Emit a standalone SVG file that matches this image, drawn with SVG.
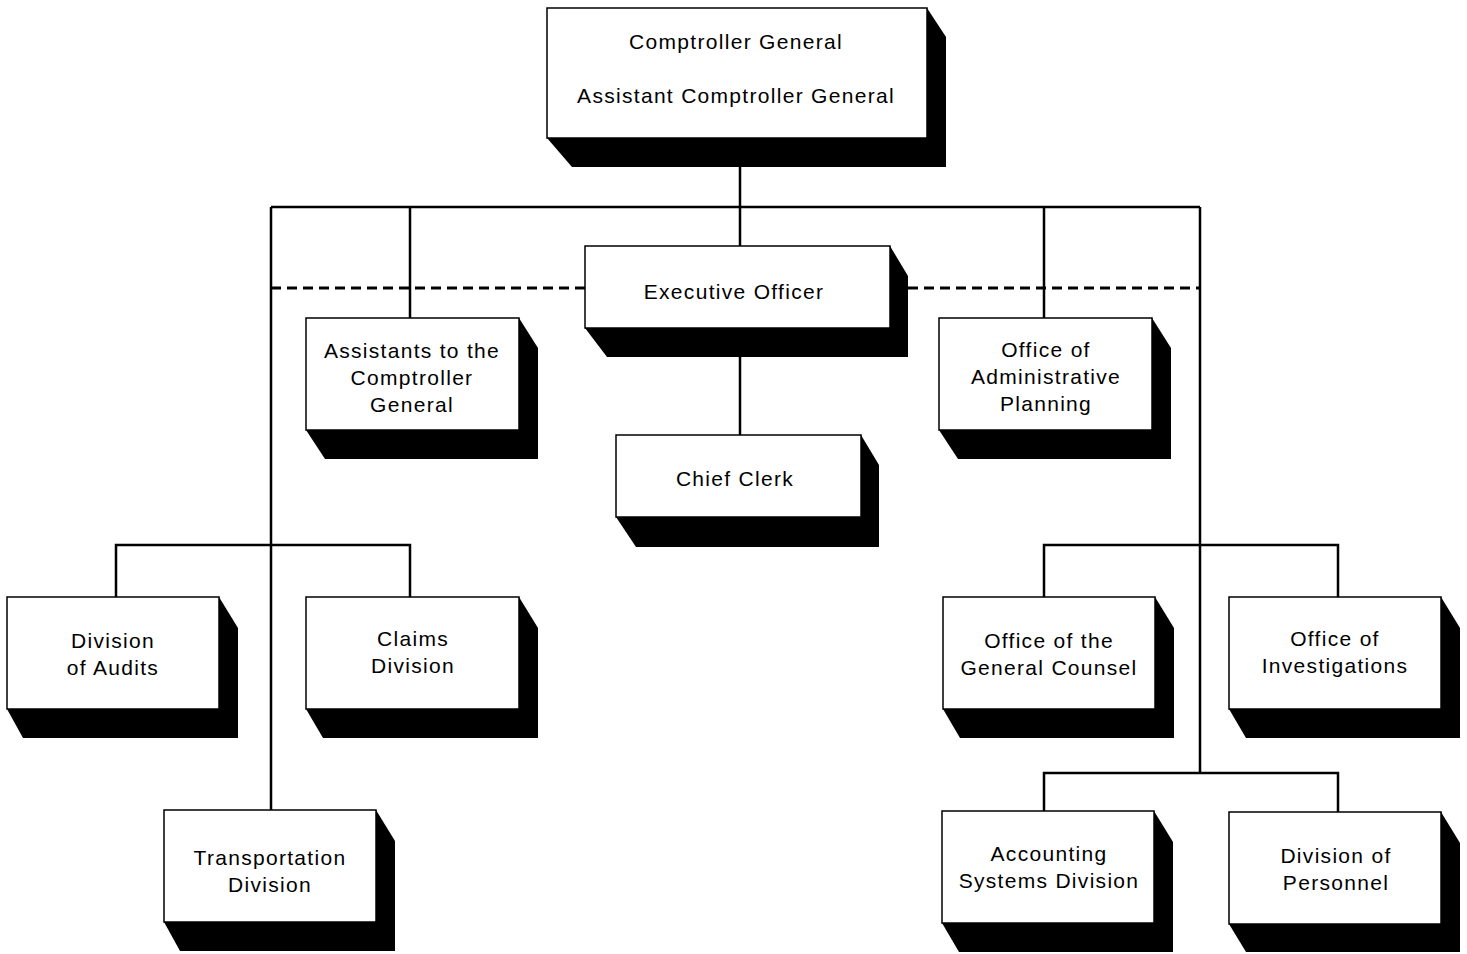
<svg xmlns="http://www.w3.org/2000/svg" width="1467" height="954" viewBox="0 0 1467 954">
<style>
.box{fill:#fff;stroke:#000;stroke-width:1.5}
.sh{fill:#000}
.t{font-family:"Liberation Sans",Arial,sans-serif;font-size:21px;fill:#000;text-anchor:middle;letter-spacing:1.3px}
.c{fill:none;stroke:#000;stroke-width:2.5}
.d{fill:none;stroke:#000;stroke-width:3;stroke-dasharray:10 6}
</style>
<rect width="1467" height="954" fill="#fff"/>
<g id="connectors">
<path class="c" d="M740 166V207M271 207H1200M271 207V810M410 207V318M740 207V246M1044 207V318M1200 207V773"/>
<path class="c" d="M740 357V435"/>
<path class="c" d="M271 545H116V597M271 545H410V597"/>
<path class="c" d="M1200 545H1044V597M1200 545H1338V597"/>
<path class="c" d="M1200 773H1044V811M1200 773H1338V812"/>
<path class="d" d="M271 288H585M908 288H1200"/>
</g>
<g id="comptroller">
<polygon class="sh" points="927,8 946,37 946,167 572,167 547,138"/>
<rect class="box" x="547" y="8" width="380" height="130"/>
<text class="t" x="736" y="49">Comptroller General</text>
<text class="t" x="736" y="103">Assistant Comptroller General</text>
</g>
<g id="executive">
<polygon class="sh" points="890,246 908,276 908,357 607,357 585,328"/>
<rect class="box" x="585" y="246" width="305" height="82"/>
<text class="t" x="734" y="299">Executive Officer</text>
</g>
<g id="chiefclerk">
<polygon class="sh" points="861,435 879,465 879,547 636,547 616,517"/>
<rect class="box" x="616" y="435" width="245" height="82"/>
<text class="t" x="735" y="486">Chief Clerk</text>
</g>
<g id="assistants">
<polygon class="sh" points="519,318 538,348 538,459 325,459 306,430"/>
<rect class="box" x="306" y="318" width="213" height="112"/>
<text class="t" x="412" y="358">Assistants to the</text>
<text class="t" x="412" y="385">Comptroller</text>
<text class="t" x="412" y="412">General</text>
</g>
<g id="adminplanning">
<polygon class="sh" points="1152,318 1171,348 1171,459 958,459 939,430"/>
<rect class="box" x="939" y="318" width="213" height="112"/>
<text class="t" x="1046" y="357">Office of</text>
<text class="t" x="1046" y="384">Administrative</text>
<text class="t" x="1046" y="411">Planning</text>
</g>
<g id="audits">
<polygon class="sh" points="219,597 238,628 238,738 23,738 7,709"/>
<rect class="box" x="7" y="597" width="212" height="112"/>
<text class="t" x="113" y="648">Division</text>
<text class="t" x="113" y="675">of Audits</text>
</g>
<g id="claims">
<polygon class="sh" points="519,597 538,628 538,738 323,738 306,709"/>
<rect class="box" x="306" y="597" width="213" height="112"/>
<text class="t" x="413" y="646">Claims</text>
<text class="t" x="413" y="673">Division</text>
</g>
<g id="transportation">
<polygon class="sh" points="376,810 395,841 395,951 180,951 164,922"/>
<rect class="box" x="164" y="810" width="212" height="112"/>
<text class="t" x="270" y="865">Transportation</text>
<text class="t" x="270" y="892">Division</text>
</g>
<g id="counsel">
<polygon class="sh" points="1155,597 1174,628 1174,738 960,738 943,709"/>
<rect class="box" x="943" y="597" width="212" height="112"/>
<text class="t" x="1049" y="648">Office of the</text>
<text class="t" x="1049" y="675">General Counsel</text>
</g>
<g id="investigations">
<polygon class="sh" points="1441,597 1460,628 1460,738 1246,738 1229,709"/>
<rect class="box" x="1229" y="597" width="212" height="112"/>
<text class="t" x="1335" y="646">Office of</text>
<text class="t" x="1335" y="673">Investigations</text>
</g>
<g id="accounting">
<polygon class="sh" points="1154,811 1173,842 1173,952 959,952 942,923"/>
<rect class="box" x="942" y="811" width="212" height="112"/>
<text class="t" x="1049" y="861">Accounting</text>
<text class="t" x="1049" y="888">Systems Division</text>
</g>
<g id="personnel">
<polygon class="sh" points="1441,812 1460,843 1460,952 1246,952 1229,924"/>
<rect class="box" x="1229" y="812" width="212" height="112"/>
<text class="t" x="1336" y="863">Division of</text>
<text class="t" x="1336" y="890">Personnel</text>
</g>
</svg>
